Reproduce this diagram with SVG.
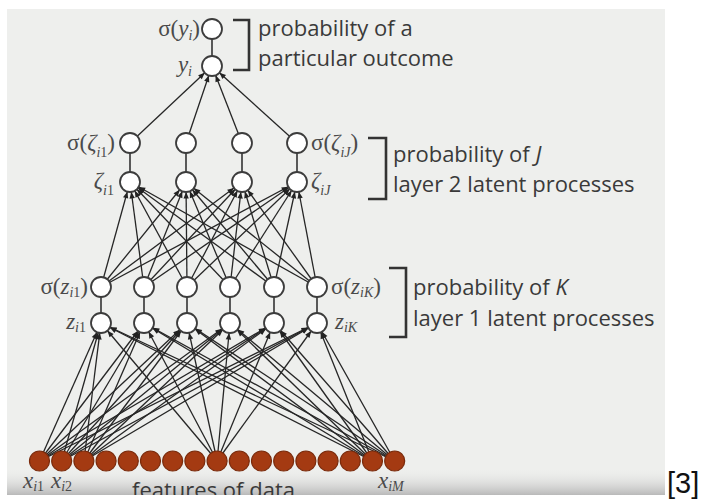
<svg xmlns="http://www.w3.org/2000/svg" width="702" height="499" viewBox="0 0 702 499">
  <defs>
    <style>
      .panel { fill: #eeefed; }
      .c { stroke: #262626; stroke-width: 1.3; fill: none; marker-end: url(#ah); }
      .link { stroke: #333; stroke-width: 1.6; }
      .n { fill: #ffffff; stroke: #3c3c3c; stroke-width: 1.8; }
      .x { fill: #a43a12; stroke: #7a2a0b; stroke-width: 1.2; }
      .br { fill: none; stroke: #333; stroke-width: 2.6; }
      .t { font-family: "Open Sans", "Noto Sans", sans-serif; font-size: 22px; fill: #3a3a3a; }
      .m { font-family: "Liberation Serif", "DejaVu Serif", serif; font-size: 23px; fill: #4a4a4a; }
      .v { font-style: italic; }
      .s { font-size: 14px; }
      .ref { font-family: "Liberation Sans", Arial, sans-serif; font-size: 29px; fill: #111; }
    </style>
    <!-- arrowhead whose tip stops on the rim of a radius-10 target circle -->
    <marker id="ah" viewBox="0 -5 20 10" refX="20" refY="0" markerWidth="20" markerHeight="10" markerUnits="userSpaceOnUse" orient="auto">
      <path d="M3.5,-2.7 L10,0 L3.5,2.7 z" fill="#222"/>
    </marker>
    <linearGradient id="fade" x1="0" y1="0" x2="0" y2="1">
      <stop offset="0" stop-color="#eeefed" stop-opacity="0"/>
      <stop offset="1" stop-color="#b9b9b9" stop-opacity="1"/>
    </linearGradient>
    <clipPath id="panelClip">
      <rect x="7" y="9" width="658" height="486"/>
    </clipPath>
  </defs>

  <rect width="702" height="499" fill="#ffffff"/>
  <rect class="panel" x="7" y="9" width="658" height="486"/>
  <rect x="7" y="468" width="658" height="27" fill="url(#fade)"/>

  <!-- connectors -->
  <g id="connectors">
    <!-- inputs to layer 1 -->
    <line class="c" x1="39.5" y1="461" x2="101" y2="323"/>
    <line class="c" x1="39.5" y1="461" x2="144" y2="323"/>
    <line class="c" x1="39.5" y1="461" x2="187" y2="323"/>
    <line class="c" x1="39.5" y1="461" x2="230" y2="323"/>
    <line class="c" x1="39.5" y1="461" x2="274" y2="323"/>
    <line class="c" x1="39.5" y1="461" x2="317" y2="323"/>
    <line class="c" x1="61.7" y1="461" x2="101" y2="323"/>
    <line class="c" x1="61.7" y1="461" x2="144" y2="323"/>
    <line class="c" x1="61.7" y1="461" x2="187" y2="323"/>
    <line class="c" x1="61.7" y1="461" x2="230" y2="323"/>
    <line class="c" x1="61.7" y1="461" x2="274" y2="323"/>
    <line class="c" x1="61.7" y1="461" x2="317" y2="323"/>
    <line class="c" x1="83.9" y1="461" x2="101" y2="323"/>
    <line class="c" x1="83.9" y1="461" x2="144" y2="323"/>
    <line class="c" x1="83.9" y1="461" x2="187" y2="323"/>
    <line class="c" x1="83.9" y1="461" x2="230" y2="323"/>
    <line class="c" x1="83.9" y1="461" x2="274" y2="323"/>
    <line class="c" x1="83.9" y1="461" x2="317" y2="323"/>
    <line class="c" x1="217.1" y1="461" x2="101" y2="323"/>
    <line class="c" x1="217.1" y1="461" x2="144" y2="323"/>
    <line class="c" x1="217.1" y1="461" x2="187" y2="323"/>
    <line class="c" x1="217.1" y1="461" x2="230" y2="323"/>
    <line class="c" x1="217.1" y1="461" x2="274" y2="323"/>
    <line class="c" x1="217.1" y1="461" x2="317" y2="323"/>
    <line class="c" x1="372.5" y1="461" x2="101" y2="323"/>
    <line class="c" x1="372.5" y1="461" x2="144" y2="323"/>
    <line class="c" x1="372.5" y1="461" x2="187" y2="323"/>
    <line class="c" x1="372.5" y1="461" x2="230" y2="323"/>
    <line class="c" x1="372.5" y1="461" x2="274" y2="323"/>
    <line class="c" x1="372.5" y1="461" x2="317" y2="323"/>
    <line class="c" x1="394.7" y1="461" x2="101" y2="323"/>
    <line class="c" x1="394.7" y1="461" x2="144" y2="323"/>
    <line class="c" x1="394.7" y1="461" x2="187" y2="323"/>
    <line class="c" x1="394.7" y1="461" x2="230" y2="323"/>
    <line class="c" x1="394.7" y1="461" x2="274" y2="323"/>
    <line class="c" x1="394.7" y1="461" x2="317" y2="323"/>
    <!-- layer 1 to layer 2 -->
    <line class="c" x1="101" y1="287" x2="130" y2="182"/>
    <line class="c" x1="101" y1="287" x2="186" y2="182"/>
    <line class="c" x1="101" y1="287" x2="242" y2="182"/>
    <line class="c" x1="101" y1="287" x2="297" y2="182"/>
    <line class="c" x1="144" y1="287" x2="130" y2="182"/>
    <line class="c" x1="144" y1="287" x2="186" y2="182"/>
    <line class="c" x1="144" y1="287" x2="242" y2="182"/>
    <line class="c" x1="144" y1="287" x2="297" y2="182"/>
    <line class="c" x1="187" y1="287" x2="130" y2="182"/>
    <line class="c" x1="187" y1="287" x2="186" y2="182"/>
    <line class="c" x1="187" y1="287" x2="242" y2="182"/>
    <line class="c" x1="187" y1="287" x2="297" y2="182"/>
    <line class="c" x1="230" y1="287" x2="130" y2="182"/>
    <line class="c" x1="230" y1="287" x2="186" y2="182"/>
    <line class="c" x1="230" y1="287" x2="242" y2="182"/>
    <line class="c" x1="230" y1="287" x2="297" y2="182"/>
    <line class="c" x1="274" y1="287" x2="130" y2="182"/>
    <line class="c" x1="274" y1="287" x2="186" y2="182"/>
    <line class="c" x1="274" y1="287" x2="242" y2="182"/>
    <line class="c" x1="274" y1="287" x2="297" y2="182"/>
    <line class="c" x1="317" y1="287" x2="130" y2="182"/>
    <line class="c" x1="317" y1="287" x2="186" y2="182"/>
    <line class="c" x1="317" y1="287" x2="242" y2="182"/>
    <line class="c" x1="317" y1="287" x2="297" y2="182"/>
    <!-- layer 2 to output -->
    <line class="c" x1="130" y1="143" x2="212" y2="66"/>
    <line class="c" x1="186" y1="143" x2="212" y2="66"/>
    <line class="c" x1="242" y1="143" x2="212" y2="66"/>
    <line class="c" x1="297" y1="143" x2="212" y2="66"/>
    <!-- activation links -->
    <line class="link" x1="212" y1="29" x2="212" y2="66"/>
    <line class="link" x1="130" y1="143" x2="130" y2="182"/>
    <line class="link" x1="186" y1="143" x2="186" y2="182"/>
    <line class="link" x1="242" y1="143" x2="242" y2="182"/>
    <line class="link" x1="297" y1="143" x2="297" y2="182"/>
    <line class="link" x1="101" y1="287" x2="101" y2="323"/>
    <line class="link" x1="144" y1="287" x2="144" y2="323"/>
    <line class="link" x1="187" y1="287" x2="187" y2="323"/>
    <line class="link" x1="230" y1="287" x2="230" y2="323"/>
    <line class="link" x1="274" y1="287" x2="274" y2="323"/>
    <line class="link" x1="317" y1="287" x2="317" y2="323"/>
  </g>

  <!-- output node -->
  <g id="output">
    <circle class="n" cx="212" cy="29" r="10"/>
    <circle class="n" cx="212" cy="66" r="10"/>
    <text class="m" x="200" y="36" text-anchor="end">σ(<tspan class="v">y</tspan><tspan class="s v" dy="4">i</tspan><tspan dy="-4">)</tspan></text>
    <text class="m" x="192" y="72" text-anchor="end"><tspan class="v">y</tspan><tspan class="s v" dy="4">i</tspan></text>
    <path class="br" d="M233,20 H249 V70 H233"/>
    <text class="t" x="258" y="36">probability of a</text>
    <text class="t" x="258" y="66">particular outcome</text>
  </g>

  <!-- layer 2 latent processes -->
  <g id="layer2">
    <circle class="n" cx="130" cy="143" r="10"/>
    <circle class="n" cx="186" cy="143" r="10"/>
    <circle class="n" cx="242" cy="143" r="10"/>
    <circle class="n" cx="297" cy="143" r="10"/>
    <circle class="n" cx="130" cy="182" r="10"/>
    <circle class="n" cx="186" cy="182" r="10"/>
    <circle class="n" cx="242" cy="182" r="10"/>
    <circle class="n" cx="297" cy="182" r="10"/>
    <text class="m" x="115" y="150" text-anchor="end">σ(<tspan class="v">ζ</tspan><tspan class="s" dy="7"><tspan class="v">i</tspan>1</tspan><tspan dy="-7">)</tspan></text>
    <text class="m" x="114" y="188" text-anchor="end"><tspan class="v">ζ</tspan><tspan class="s" dy="7"><tspan class="v">i</tspan>1</tspan></text>
    <text class="m" x="311" y="150">σ(<tspan class="v">ζ</tspan><tspan class="s v" dy="7">iJ</tspan><tspan dy="-7">)</tspan></text>
    <text class="m" x="311" y="188"><tspan class="v">ζ</tspan><tspan class="s v" dy="7">iJ</tspan></text>
    <path class="br" d="M368,138 H386 V199 H368"/>
    <text class="t" x="393" y="162">probability of <tspan class="v">J</tspan></text>
    <text class="t" x="393" y="192">layer 2 latent processes</text>
  </g>

  <!-- layer 1 latent processes -->
  <g id="layer1">
    <circle class="n" cx="101" cy="287" r="10"/>
    <circle class="n" cx="144" cy="287" r="10"/>
    <circle class="n" cx="187" cy="287" r="10"/>
    <circle class="n" cx="230" cy="287" r="10"/>
    <circle class="n" cx="274" cy="287" r="10"/>
    <circle class="n" cx="317" cy="287" r="10"/>
    <circle class="n" cx="101" cy="323" r="10"/>
    <circle class="n" cx="144" cy="323" r="10"/>
    <circle class="n" cx="187" cy="323" r="10"/>
    <circle class="n" cx="230" cy="323" r="10"/>
    <circle class="n" cx="274" cy="323" r="10"/>
    <circle class="n" cx="317" cy="323" r="10"/>
    <text class="m" x="88" y="294" text-anchor="end">σ(<tspan class="v">z</tspan><tspan class="s" dy="3"><tspan class="v">i</tspan>1</tspan><tspan dy="-3">)</tspan></text>
    <text class="m" x="86" y="329" text-anchor="end"><tspan class="v">z</tspan><tspan class="s" dy="3"><tspan class="v">i</tspan>1</tspan></text>
    <text class="m" x="331" y="294">σ(<tspan class="v">z</tspan><tspan class="s v" dy="3">iK</tspan><tspan dy="-3">)</tspan></text>
    <text class="m" x="335" y="329"><tspan class="v">z</tspan><tspan class="s v" dy="3">iK</tspan></text>
    <path class="br" d="M389,268 H406 V337 H389"/>
    <text class="t" x="413" y="295">probability of <tspan class="v">K</tspan></text>
    <text class="t" x="413" y="326">layer 1 latent processes</text>
  </g>

  <!-- observed features -->
  <g id="features">
    <circle class="x" cx="39.5" cy="461" r="10"/>
    <circle class="x" cx="61.7" cy="461" r="10"/>
    <circle class="x" cx="83.9" cy="461" r="10"/>
    <circle class="x" cx="106.1" cy="461" r="10"/>
    <circle class="x" cx="128.3" cy="461" r="10"/>
    <circle class="x" cx="150.5" cy="461" r="10"/>
    <circle class="x" cx="172.7" cy="461" r="10"/>
    <circle class="x" cx="194.9" cy="461" r="10"/>
    <circle class="x" cx="217.1" cy="461" r="10"/>
    <circle class="x" cx="239.3" cy="461" r="10"/>
    <circle class="x" cx="261.5" cy="461" r="10"/>
    <circle class="x" cx="283.7" cy="461" r="10"/>
    <circle class="x" cx="305.9" cy="461" r="10"/>
    <circle class="x" cx="328.1" cy="461" r="10"/>
    <circle class="x" cx="350.3" cy="461" r="10"/>
    <circle class="x" cx="372.5" cy="461" r="10"/>
    <circle class="x" cx="394.7" cy="461" r="10"/>
    <text class="m" x="23" y="488"><tspan class="v">x</tspan><tspan class="s" dy="3"><tspan class="v">i</tspan>1</tspan></text>
    <text class="m" x="51" y="488"><tspan class="v">x</tspan><tspan class="s" dy="3"><tspan class="v">i</tspan>2</tspan></text>
    <text class="m" x="378" y="488"><tspan class="v">x</tspan><tspan class="s v" dy="3">iM</tspan></text>
    <text class="t" x="132" y="498" clip-path="url(#panelClip)">features of data</text>
  </g>

  <text class="ref" x="667" y="493">[3]</text>
</svg>
